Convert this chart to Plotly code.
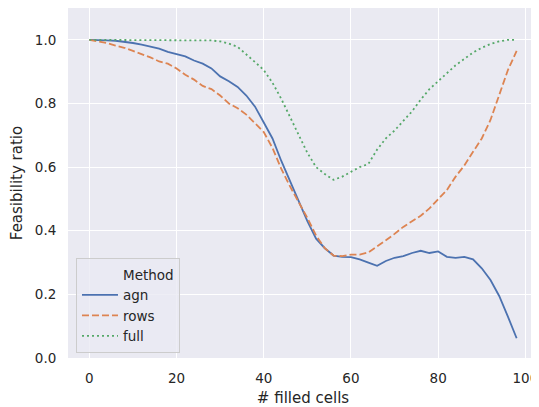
import plotly.graph_objects as go

x_cells = list(range(0, 100, 2))

agn = [1.0, 1.0, 0.998, 0.997, 0.994, 0.99, 0.985, 0.978, 0.972, 0.962,
       0.955, 0.948, 0.935, 0.925, 0.91, 0.885, 0.87, 0.852, 0.825, 0.79,
       0.74, 0.69, 0.62, 0.555, 0.49, 0.43, 0.375, 0.345, 0.322, 0.318,
       0.317, 0.31, 0.30, 0.29, 0.305, 0.315, 0.32, 0.33, 0.337, 0.33,
       0.335, 0.318, 0.315, 0.318, 0.31, 0.282, 0.245, 0.195, 0.13, 0.062]

rows = [1.0, 0.995, 0.99, 0.982, 0.975, 0.965, 0.955, 0.945, 0.932, 0.925,
        0.91, 0.89, 0.875, 0.855, 0.845, 0.825, 0.80, 0.785, 0.765, 0.738,
        0.71, 0.66, 0.595, 0.54, 0.49, 0.44, 0.385, 0.345, 0.322, 0.32,
        0.325, 0.325, 0.332, 0.35, 0.37, 0.39, 0.412, 0.43, 0.447, 0.47,
        0.50, 0.528, 0.57, 0.605, 0.648, 0.69, 0.748, 0.83, 0.905, 0.965]

full = [1.0, 1.0, 1.0, 1.0, 1.0, 1.0, 1.0, 1.0, 1.0, 1.0,
        1.0, 1.0, 1.0, 0.999, 0.998, 0.995, 0.988, 0.978, 0.955, 0.93,
        0.905, 0.865, 0.815, 0.76, 0.705, 0.645, 0.60, 0.578, 0.56, 0.57,
        0.585, 0.60, 0.61, 0.655, 0.69, 0.715, 0.745, 0.775, 0.812, 0.845,
        0.87, 0.895, 0.92, 0.94, 0.96, 0.975, 0.987, 0.995, 1.0, 1.0]

series_names = ["agn", "rows", "full"]
series_values = [agn, rows, full]
colors = ["#4c72b0", "#dd8452", "#55a868"]
dashes = ["solid", "7px,3px", "2px,3px"]

y_ticks = [0.0, 0.2, 0.4, 0.6, 0.8, 1.0]
x_ticks = [0, 20, 40, 60, 80, 100]

FONT = "DejaVu Sans"
TXT = "#262626"

fig = go.Figure()
# legend title as an entry (seaborn style)
fig.add_trace(go.Scatter(x=[None], y=[None], mode="lines", name="Method",
                         line=dict(color="rgba(0,0,0,0)", width=1.5),
                         hoverinfo="skip"))
for name, vals, c, d in zip(series_names, series_values, colors, dashes):
    fig.add_trace(go.Scatter(x=x_cells, y=vals, mode="lines", name=name,
                             line=dict(color=c, width=1.8, dash=d)))

fig.update_layout(
    width=531, height=399,
    margin=dict(l=60, r=1, t=0, b=49),
    paper_bgcolor="white",
    plot_bgcolor="#eaeaf2",
    font=dict(family=FONT, size=13.5, color=TXT),
    showlegend=True,
    legend=dict(x=0.017, y=0.2857, xanchor="left", yanchor="top",
                bgcolor="rgba(234,234,242,0.8)", bordercolor="#cccccc",
                borderwidth=1, font=dict(family=FONT, size=13.5, color=TXT),
                tracegroupgap=0, itemwidth=36),
    xaxis=dict(range=[-4.9, 102.9], tickvals=x_ticks, showgrid=True,
               gridcolor="white", gridwidth=1.2, zeroline=False,
               ticks="outside", ticklen=8, tickcolor="rgba(0,0,0,0)",
               showline=False, automargin=False,
               title=dict(text="# filled cells", font=dict(size=15, family=FONT, color=TXT),
                          standoff=7)),
    yaxis=dict(range=[0, 1.1], tickvals=y_ticks, tickformat=".1f", showgrid=True,
               gridcolor="white", gridwidth=1.2, zeroline=False,
               ticks="outside", ticklen=8, tickcolor="rgba(0,0,0,0)",
               showline=False, automargin=False,
               title=dict(text="Feasibility ratio", font=dict(size=15, family=FONT, color=TXT),
                          standoff=8)),
)

fig.write_html("out.html")
